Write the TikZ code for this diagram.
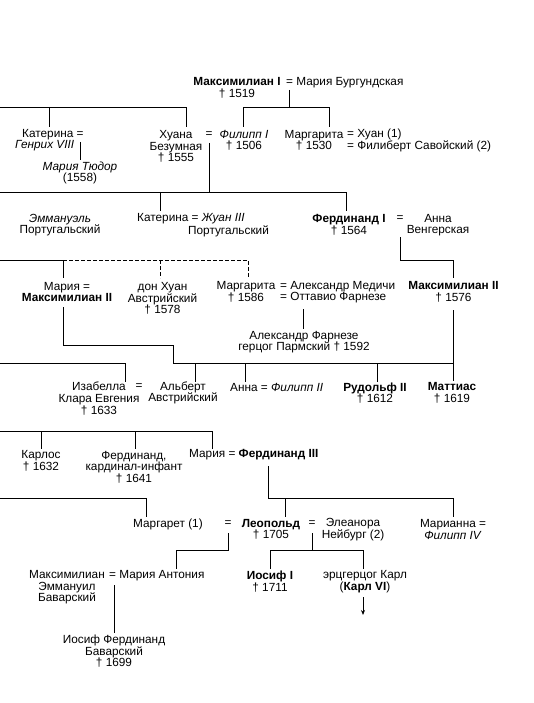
\documentclass[tikz,border=0pt]{standalone}
\usepackage{fontspec}
\setmainfont{Liberation Sans}
\usetikzlibrary{arrows.meta}
\begin{document}
\begin{tikzpicture}[x=1pt,y=-1pt,
  lbl/.style={inner sep=0pt,align=center,font=\fontsize{11.8}{11.6}\selectfont},
  lw/.style={lbl,anchor=west},
  ln/.style={line width=0.95pt,black},
  dl/.style={ln,dash pattern=on 3.5pt off 2.5pt},
  arr/.style={ln,-{Stealth[length=5pt,width=4pt]}}]
\useasboundingbox (0,0) rectangle (534,703);
% ---------- texts ----------
\node[lbl] (max1) at (237,88) {\textbf{Максимилиан I}\\† 1519};
\node[lw] (mbur) at (286,83) {= Мария Бургундская};
\node[lw] (kat1) at (22,135) {Катерина =};
\node[lw] (hen8) at (15,146) {\textit{Генрих VIII}};
\node[lbl] (mtud) at (80,173) {\textit{Мария Тюдор}\\(1558)};
\node[lbl] (juana) at (176,146.5) {Хуана\\Безумная\\† 1555};
\node[lbl] (eqA) at (209,135) {=};
\node[lbl] (fil1) at (244,140.5) {\textit{Филипп I}\\† 1506};
\node[lbl] (marg1) at (314,140.5) {Маргарита\\† 1530};
\node[lw,align=left] (marg1s) at (347,140.5) {= Хуан (1)\\= Филиберт Савойский (2)};
\node[lbl] (emm) at (60,225) {\textit{Эммануэль}\\Португальский};
\node[lw] (kat2) at (137,219) {Катерина = \textit{Жуан III}};
\node[lw] (port2) at (188,231) {Португальский};
\node[lbl] (ferd1) at (349,225) {\textbf{Фердинанд I}\\† 1564};
\node[lbl] (eqB) at (400,219) {=};
\node[lbl] (anna1) at (438,225) {Анна\\Венгерская};
\node[lbl] (mar2) at (67,292) {Мария =\\\textbf{Максимилиан II}};
\node[lbl] (donj) at (162.5,298.5) {дон Хуан\\Австрийский\\† 1578};
\node[lbl] (marg2) at (246,292) {Маргарита\\† 1586};
\node[lw,align=left] (marg2s) at (280,292) {= Александр Медичи\\= Оттавио Фарнезе};
\node[lbl] (max2) at (453.5,292) {\textbf{Максимилиан II}\\† 1576};
\node[lbl] (afar) at (304,342) {Александр Фарнезе\\герцог Пармский † 1592};
\node[lbl] (isab) at (99,398.5) {Изабелла\\Клара Евгения\\† 1633};
\node[lbl] (eqC) at (139,387) {=};
\node[lbl] (albe) at (183,393) {Альберт\\Австрийский};
\node[lw] (anna2) at (230,387) {Анна = \textit{Филипп II}};
\node[lbl] (rud2) at (375,393) {\textbf{Рудольф II}\\† 1612};
\node[lbl] (matt) at (452,393) {\textbf{Маттиас}\\† 1619};
\node[lbl] (carl) at (41,461) {Карлос\\† 1632};
\node[lbl] (ferci) at (134,467) {Фердинанд,\\кардинал-инфант\\† 1641};
\node[lw] (mar3) at (189,455) {Мария = \textbf{Фердинанд III}};
\node[lw] (marg3) at (133,524) {Маргарет (1)};
\node[lbl] (eqD) at (228,524) {=};
\node[lbl] (leop) at (271,529.5) {\textbf{Леопольд}\\† 1705};
\node[lbl] (eqE) at (312,524) {=};
\node[lbl] (elea) at (353,529.5) {Элеанора\\Нейбург (2)};
\node[lbl] (mari) at (453,529.5) {Марианна =\\\textit{Филипп IV}};
\node[lbl] (maxe) at (67,587.5) {Максимилиан\\Эммануил\\Баварский};
\node[lw] (mant) at (109,576) {= Мария Антония};
\node[lbl] (josf) at (114,651.5) {Иосиф Фердинанд\\Баварский\\† 1699};
\node[lbl] (jos1) at (270,581.5) {\textbf{Иосиф I}\\† 1711};
\node[lbl] (karl) at (365,581.5) {эрцгерцог Карл\\(\textbf{Карл VI})};
% ---------- junction points ----------
\coordinate (a0) at (289,90);  \coordinate (a1) at (289,107);
\coordinate (a2) at (243,107); \coordinate (a3) at (329,107);
\coordinate (b0) at (0,107);   \coordinate (b1) at (49,107); \coordinate (b2) at (186,107);
\coordinate (c0) at (209,143); \coordinate (c1) at (209,192);
\coordinate (c2) at (0,192);   \coordinate (c3) at (160,192); \coordinate (c4) at (346,192);
\coordinate (d0) at (400,237); \coordinate (d1) at (400,260); \coordinate (d2) at (453,260);
\coordinate (e0) at (0,260);   \coordinate (e1) at (63,260); \coordinate (e2) at (160,260); \coordinate (e3) at (248,260);
\coordinate (f0) at (63,307);  \coordinate (f1) at (63,345); \coordinate (f2) at (173,345);
\coordinate (f3) at (173,363); \coordinate (f4) at (453,363);
\coordinate (g0) at (0,363);   \coordinate (g1) at (125,363);
\coordinate (h0) at (0,431);   \coordinate (h1) at (41,431); \coordinate (h2) at (135,431); \coordinate (h3) at (212,431);
\coordinate (i0) at (268,466); \coordinate (i1) at (268,498); \coordinate (i2) at (285,498); \coordinate (i3) at (453,498);
\coordinate (j0) at (0,498);   \coordinate (j1) at (146,498);
\coordinate (k0) at (228,533); \coordinate (k1) at (228,550); \coordinate (k2) at (176,550);
\coordinate (l0) at (312,533); \coordinate (l1) at (312,550); \coordinate (l2) at (270,550); \coordinate (l3) at (363,550);
\coordinate (m0) at (114,585); \coordinate (m1) at (114,633);
\coordinate (n0) at (363,597); \coordinate (n1) at (363,615);
\coordinate (o0) at (80,142);  \coordinate (o1) at (80,160);
\coordinate (p0) at (303,309); \coordinate (p1) at (303,329);
% ---------- connectors ----------
\draw[ln] (a0) -- (a1);
\draw[ln] (a2 |- 0,127) -- (a2) -- (a3) -- (a3 |- 0,127);
\draw[ln] (b0) -- (b2) -- (b2 |- 0,127);
\draw[ln] (b1) -- (b1 |- 0,127);
\draw[ln] (o0) -- (o1);
\draw[ln] (c0) -- (c1);
\draw[ln] (c2) -- (c4) -- (c4 |- 0,211);
\draw[ln] (c3) -- (c3 |- 0,211);
\draw[ln] (d0) -- (d1) -- (d2) -- (d2 |- 0,278);
\draw[ln] (e0) -- (e1) -- (e1 |- 0,278);
\draw[dl] (e1) -- (e3) -- (e3 |- 0,278);
\draw[dl] (e2) -- (e2 |- 0,278);
\draw[ln] (p0) -- (p1);
\draw[ln] (f0) -- (f1) -- (f2) -- (f3) -- (f4);
\draw[ln] (453,310) -- (453,381);
\foreach \xx in {195,245,377} \draw[ln] (\xx,363) -- (\xx,382);
\draw[ln] (g0) -- (g1) -- (g1 |- 0,382);
\draw[ln] (h0) -- (h3) -- (h3 |- 0,449);
\draw[ln] (h1) -- (h1 |- 0,449);
\draw[ln] (h2) -- (h2 |- 0,449);
\draw[ln] (i0) -- (i1) -- (i3) -- (i3 |- 0,517);
\draw[ln] (i2) -- (i2 |- 0,517);
\draw[ln] (j0) -- (j1) -- (j1 |- 0,517);
\draw[ln] (k0) -- (k1) -- (k2) -- (k2 |- 0,569);
\draw[ln] (l0) -- (l1);
\draw[ln] (l2 |- 0,569) -- (l2) -- (l3) -- (l3 |- 0,569);
\draw[ln] (m0) -- (m1);
\draw[arr] (n0) -- (n1);
\end{tikzpicture}
\end{document}
